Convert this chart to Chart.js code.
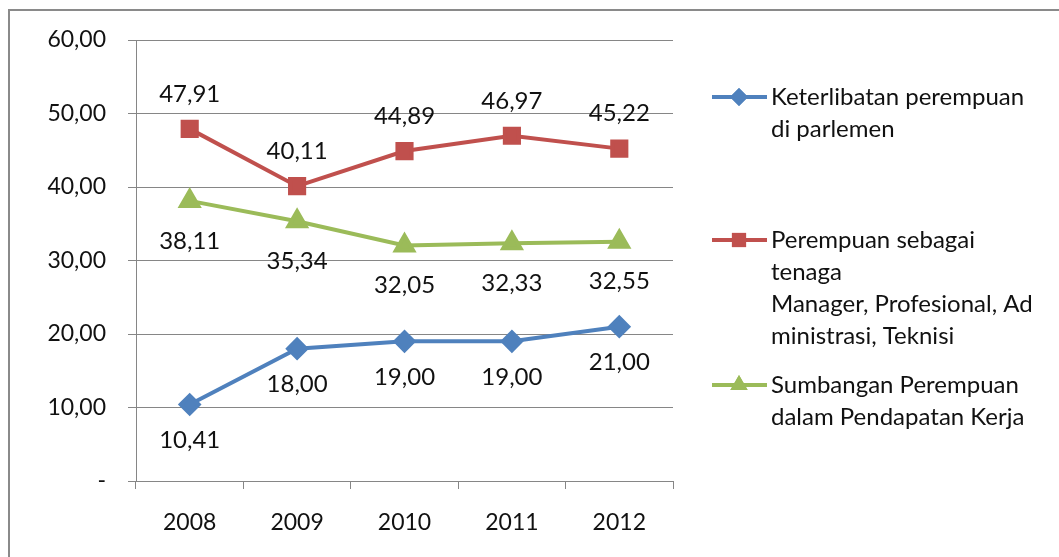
<!DOCTYPE html>
<html>
<head>
<meta charset="utf-8">
<script src="https://cdn.jsdelivr.net/npm/chart.js@4/dist/chart.umd.min.js"></script>
<style>
html,body{margin:0;padding:0;background:#fff;}
#wrap{position:relative;width:1059px;height:557px;}
</style>
</head>
<body>
<div id="wrap"><canvas id="c" width="1059" height="557"></canvas></div>
<script>
const categories = ["2008", "2009", "2010", "2011", "2012"];
const parlemen = [10.41, 18.00, 19.00, 19.00, 21.00];
const tenaga = [47.91, 40.11, 44.89, 46.97, 45.22];
const sumbangan = [38.11, 35.34, 32.05, 32.33, 32.55];
const legendParlemen = ["Keterlibatan perempuan", "di parlemen"];
const legendTenaga = ["Perempuan sebagai", "tenaga", "Manager, Profesional, Ad", "ministrasi, Teknisi"];
const legendSumbangan = ["Sumbangan Perempuan", "dalam Pendapatan Kerja"];
const yTicks = [0, 10, 20, 30, 40, 50, 60];

const FONT = "Lato, 'Open Sans', sans-serif";
const fmt = v => v === 0 ? "-" : v.toFixed(2).replace(".", ",");

const borderPlugin = {
  id: 'outerBorder',
  beforeDraw(chart) {
    const ctx = chart.ctx;
    ctx.save();
    ctx.strokeStyle = '#8a8a8a';
    ctx.lineWidth = 2;
    ctx.beginPath();
    ctx.moveTo(1059, 10);
    ctx.lineTo(9, 10);
    ctx.lineTo(9, 557);
    ctx.stroke();
    ctx.restore();
  }
};

const labelPlugin = {
  id: 'valueLabels',
  afterDatasetsDraw(chart) {
    const ctx = chart.ctx;
    ctx.save();
    ctx.font = "24px " + FONT;
    ctx.fillStyle = '#111';
    ctx.textAlign = 'center';
    ctx.textBaseline = 'middle';
    chart.data.datasets.forEach((ds, i) => {
      const meta = chart.getDatasetMeta(i);
      meta.data.forEach((pt, j) => {
        ctx.fillText(fmt(ds.data[j]), pt.x, pt.y + ds.labelOffset);
      });
    });
    ctx.restore();
  }
};

const legendPlugin = {
  id: 'customLegend',
  afterDraw(chart) {
    const ctx = chart.ctx;
    ctx.save();
    const tops = [97, 240, 385];
    chart.data.datasets.forEach((ds, i) => {
      const y = tops[i];
      ctx.strokeStyle = ds.borderColor;
      ctx.lineWidth = 4;
      ctx.beginPath();
      ctx.moveTo(712, y);
      ctx.lineTo(767, y);
      ctx.stroke();
      ctx.fillStyle = ds.borderColor;
      ctx.beginPath();
      Chart.helpers.drawPoint(ctx, {
        pointStyle: ds.pointStyle,
        radius: ds.pointRadius,
        rotation: 0,
        borderWidth: 0
      }, 739, y);
      ctx.fill();
      ctx.font = "24px " + FONT;
      ctx.fillStyle = '#111';
      ctx.textAlign = 'left';
      ctx.textBaseline = 'middle';
      ds.legendLines.forEach((line, k) => {
        ctx.fillText(line, 771, y + k * 32);
      });
    });
    ctx.restore();
  }
};

new Chart(document.getElementById('c'), {
  type: 'line',
  data: {
    labels: categories,
    datasets: [
      {
        label: legendParlemen.join(' '),
        legendLines: legendParlemen,
        data: parlemen,
        borderColor: '#4F81BD',
        backgroundColor: '#4F81BD',
        pointStyle: 'rectRot',
        pointRadius: 9,
        borderWidth: 4,
        labelOffset: 36
      },
      {
        label: legendTenaga.join(' '),
        legendLines: legendTenaga,
        data: tenaga,
        borderColor: '#C0504D',
        backgroundColor: '#C0504D',
        pointStyle: 'rect',
        pointRadius: 10,
        borderWidth: 4,
        labelOffset: -35
      },
      {
        label: legendSumbangan.join(' '),
        legendLines: legendSumbangan,
        data: sumbangan,
        borderColor: '#9BBB59',
        backgroundColor: '#9BBB59',
        pointStyle: 'triangle',
        pointRadius: 10,
        borderWidth: 4,
        labelOffset: 40
      }
    ]
  },
  options: {
    responsive: false,
    animation: false,
    devicePixelRatio: 1,
    layout: { padding: { left: 0, right: 386, top: 40, bottom: 0 } },
    elements: { line: { tension: 0 }, point: { borderWidth: 0 } },
    plugins: { legend: { display: false }, tooltip: { enabled: false } },
    scales: {
      x: {
        offset: true,
        afterFit(s) { s.height = 76; },
        grid: { offset: true, drawOnChartArea: false, drawTicks: true, tickLength: 8, color: '#868686', lineWidth: 1 },
        border: { display: true, color: '#868686', width: 1 },
        ticks: { font: { family: FONT, size: 23 }, color: '#111', padding: 20 }
      },
      y: {
        min: 0, max: 60,
        afterFit(s) { s.width = 136; },
        afterBuildTicks(s) { s.ticks = yTicks.map(v => ({ value: v })); },
        grid: { color: '#868686', lineWidth: 1, tickLength: 8 },
        border: { display: true, color: '#868686', width: 1 },
        ticks: { font: { family: FONT, size: 23 }, color: '#111', padding: 22, callback: v => fmt(v) }
      }
    }
  },
  plugins: [borderPlugin, labelPlugin, legendPlugin]
});
</script>
</body>
</html>
